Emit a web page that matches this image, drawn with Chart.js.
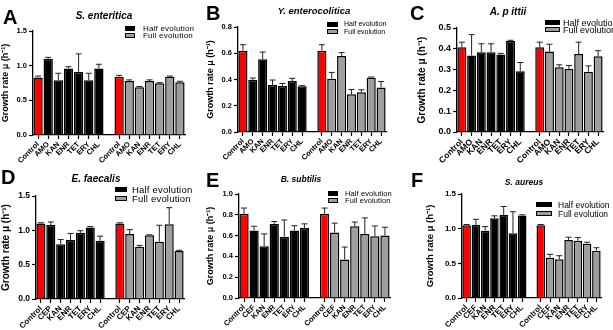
<!DOCTYPE html>
<html><head><meta charset="utf-8">
<script src="https://cdn.jsdelivr.net/npm/chart.js@4/dist/chart.umd.min.js"></script>
<style>
body{margin:0;background:#fff;width:613px;height:330px;position:relative;overflow:hidden;font-family:'Liberation Sans',Arial,sans-serif;color:#000;}
canvas{position:absolute;}
.lt{position:absolute;font-weight:bold;font-size:20px;line-height:20px;}
.ti{position:absolute;font-weight:bold;font-style:italic;text-align:center;white-space:nowrap;width:200px;}
.row{position:absolute;white-space:nowrap;display:flex;align-items:center;}
.bx{display:inline-block;box-sizing:border-box;}
</style></head><body>
<script>
// ---------- data ----------
const SERIES = ['Half evolution', 'Full evolution'];
const Y_TITLE = 'Growth rate μ (h⁻¹)';

const catsA = ['Control','AMO','KAN','ENR','TET','ERY','CHL'];
const halfA = [0.83, 1.10, 0.79, 0.96, 0.91, 0.79, 0.96];
const halfErrA = [0.02, 0.02, 0.10, 0.025, 0.26, 0.10, 0.06];
const fullA = [0.84, 0.78, 0.69, 0.78, 0.745, 0.84, 0.76];
const fullErrA = [0.02, 0.015, 0.01, 0.015, 0.01, 0.01, 0.015];
const yTicksA = [0, 0.5, 1.0, 1.5];

const catsB = ['Control','AMO','KAN','ENR','TET','ERY','CHL'];
const halfB = [0.62, 0.396, 0.554, 0.358, 0.35, 0.389, 0.348];
const halfErrB = [0.045, 0.015, 0.055, 0.038, 0.02, 0.02, 0.005];
const fullB = [0.62, 0.406, 0.58, 0.287, 0.302, 0.414, 0.34];
const fullErrB = [0.045, 0.048, 0.025, 0.037, 0.02, 0.005, 0.045];
const yTicksB = [0, 0.2, 0.4, 0.6, 0.8];

const catsC = ['Control','AMO','KAN','ENR','TET','ERY','CHL'];
const halfC = [0.407, 0.368, 0.384, 0.384, 0.372, 0.438, 0.292];
const halfErrC = [0.025, 0.1, 0.04, 0.04, 0.006, 0.003, 0.042];
const fullC = [0.407, 0.387, 0.311, 0.303, 0.375, 0.29, 0.364];
const fullErrC = [0.025, 0.035, 0.012, 0.017, 0.057, 0.028, 0.027];
const yTicksC = [0, 0.1, 0.2, 0.3, 0.4, 0.5];

const catsD = ['Control','CEP','KAN','ENR','TET','ERY','CHL'];
const halfD = [1.10, 1.077, 0.796, 0.86, 0.965, 1.04, 0.85];
const halfErrD = [0.01, 0.045, 0.07, 0.095, 0.03, 0.015, 0.065];
const fullD = [1.10, 0.946, 0.76, 0.93, 0.834, 1.09, 0.70];
const fullErrD = [0.01, 0.065, 0.02, 0.005, 0.24, 0.24, 0.01];
const yTicksD = [0, 0.5, 1.0, 1.5];

const catsE = ['Control','CEF','KAN','ENR','TET','ERY','CHL'];
const halfE = [0.81, 0.65, 0.497, 0.715, 0.59, 0.65, 0.673];
const halfErrE = [0.055, 0.04, 0.12, 0.02, 0.16, 0.045, 0.04];
const fullE = [0.81, 0.63, 0.37, 0.69, 0.615, 0.593, 0.60];
const fullErrE = [0.055, 0.09, 0.12, 0.04, 0.155, 0.10, 0.08];
const yTicksE = [0, 0.2, 0.4, 0.6, 0.8, 1.0];

const catsF = ['Control','CEF','KAN','ENR','TET','ERY','CHL'];
const halfF = [1.05, 1.055, 0.97, 1.15, 1.20, 0.934, 1.19];
const halfErrF = [0.01, 0.08, 0.06, 0.035, 0.12, 0.31, 0.01];
const fullF = [1.05, 0.58, 0.56, 0.837, 0.827, 0.784, 0.68];
const fullErrF = [0.01, 0.05, 0.05, 0.04, 0.045, 0.02, 0.045];
const yTicksF = [0, 0.5, 1.0, 1.5];

// ---------- styling / layout ----------
const FONT = "'Liberation Sans', Arial, sans-serif";
const RED = '#ff0000', BLACK = '#000000', GRAY = '#9e9e9e';

const panels = [
  {letter:'A', title:'S. enteritica', cats:catsA, half:halfA, halfErr:halfErrA, full:fullA, fullErr:fullErrA, yTicks:yTicksA,
   box:[0,0,205,165], L:33, R:185, T:31, B:135, padL:0, tickFs:7.5, xFs:7.5, yTitleFs:9,
   tt:{cx:104, cy:15.5, fs:10}, lt:{x:3, base:24},
   lg:{bx:125, tx:143, y1:29, y2:36, fs:8, ls:0.2, bw:10}},
  {letter:'B', title:'Y. enterocolitica', cats:catsB, half:halfB, halfErr:halfErrB, full:fullB, fullErr:fullErrB, yTicks:yTicksB,
   box:[205,0,203,165], L:33, R:181, T:27, B:132, padL:0, tickFs:7.5, xFs:7.5, yTitleFs:9,
   tt:{cx:314, cy:11, fs:9.5}, lt:{x:206, base:20},
   lg:{bx:327, tx:344, y1:24.5, y2:32, fs:7, ls:0, bw:11}},
  {letter:'C', title:'A. p ittii', cats:catsC, half:halfC, halfErr:halfErrC, full:fullC, fullErr:fullErrC, yTicks:yTicksC,
   box:[408,0,205,165], L:49, R:195, T:28, B:132, padL:8, tickFs:9, xFs:8.5, yTitleFs:10,
   tt:{cx:508, cy:11.5, fs:10}, lt:{x:410, base:20},
   lg:{bx:545, tx:563, y1:23, y2:30, fs:9, ls:0, bw:15}},
  {letter:'D', title:'E. faecalis', cats:catsD, half:halfD, halfErr:halfErrD, full:fullD, fullErr:fullErrD, yTicks:yTicksD,
   box:[0,165,205,165], L:36, R:184, T:31, B:134, padL:0, tickFs:8.5, xFs:8, yTitleFs:10,
   tt:{cx:96, cy:179, fs:10}, lt:{x:1, base:184},
   lg:{bx:115, tx:132, y1:189.5, y2:198.5, fs:9.5, ls:0.2, bw:12}},
  {letter:'E', title:'B. subtilis', cats:catsE, half:halfE, halfErr:halfErrE, full:fullE, fullErr:fullErrE, yTicks:yTicksE,
   box:[205,165,203,165], L:34, R:185, T:29, B:133, padL:0, tickFs:7.5, xFs:7.5, yTitleFs:9,
   tt:{cx:301, cy:179, fs:8.5}, lt:{x:206, base:187},
   lg:{bx:328, tx:345, y1:193, y2:200, fs:7.5, ls:0.1, bw:10}},
  {letter:'F', title:'S. aureus', cats:catsF, half:halfF, halfErr:halfErrF, full:fullF, fullErr:fullErrF, yTicks:yTicksF,
   box:[408,165,205,165], L:54, R:193, T:29, B:133, padL:17, tickFs:8, xFs:8, yTitleFs:9.5,
   tt:{cx:524, cy:182, fs:8.5}, lt:{x:411, base:187},
   lg:{bx:536, tx:558, y1:205, y2:214, fs:8.5, ls:0, bw:16}}
];

// ---------- error bar plugin ----------
const errorBars = {
  id: 'errorBars',
  afterDatasetsDraw(chart) {
    const ctx = chart.ctx, ys = chart.scales.y;
    chart.data.datasets.forEach((ds, di) => {
      const meta = chart.getDatasetMeta(di);
      meta.data.forEach((el, i) => {
        const v = ds.data[i], e = ds.errors ? ds.errors[i] : null;
        if (v == null || e == null) return;
        const yt = ys.getPixelForValue(v + e);
        ctx.save();
        ctx.strokeStyle = '#222';
        ctx.lineWidth = 1;
        ctx.beginPath();
        ctx.moveTo(el.x, el.y);
        ctx.lineTo(el.x, yt);
        ctx.moveTo(el.x - 3, yt);
        ctx.lineTo(el.x + 3, yt);
        ctx.stroke();
        ctx.restore();
      });
    });
  }
};

function addDiv(cls, text, style) {
  const d = document.createElement('div');
  d.className = cls;
  if (text != null) d.textContent = text;
  Object.assign(d.style, style);
  document.body.appendChild(d);
  return d;
}

panels.forEach(p => {
  const [bx, by, bw, bh] = p.box;
  const cv = document.createElement('canvas');
  cv.width = bw; cv.height = bh;
  cv.style.left = bx + 'px'; cv.style.top = by + 'px';
  cv.style.width = bw + 'px'; cv.style.height = bh + 'px';
  document.body.appendChild(cv);

  const n = p.cats.length;
  const labels = [...p.cats, '', ...p.cats];
  const gapIdx = n;
  const nulls = k => Array(k).fill(null);
  const halfData = [...p.half, ...nulls(n + 1)];
  const halfErr = [...p.halfErr, ...nulls(n + 1)];
  const fullData = [...nulls(n + 1), ...p.full];
  const fullErr = [...nulls(n + 1), ...p.fullErr];
  const halfColors = labels.map((l, i) => i === 0 ? RED : BLACK);
  const fullColors = labels.map((l, i) => i === n + 1 ? RED : GRAY);
  const yMax = p.yTicks[p.yTicks.length - 1];

  new Chart(cv, {
    type: 'bar',
    data: {
      labels,
      datasets: [
        {label: SERIES[0], data: halfData, errors: halfErr, backgroundColor: halfColors,
         borderColor: '#000', borderWidth: 1.5, grouped: false, barPercentage: 0.92, categoryPercentage: 1},
        {label: SERIES[1], data: fullData, errors: fullErr, backgroundColor: fullColors,
         borderColor: '#000', borderWidth: 1.5, grouped: false, barPercentage: 0.92, categoryPercentage: 1}
      ]
    },
    options: {
      responsive: false, animation: false, devicePixelRatio: 1,
      layout: {padding: {left: p.padL, top: p.T, right: bw - p.R, bottom: 0}},
      plugins: {legend: {display: false}, tooltip: {enabled: false}, title: {display: false}},
      scales: {
        x: {
          type: 'category', offset: true,
          grid: {display: true, offset: false, drawOnChartArea: false, drawTicks: true, tickLength: 4, tickWidth: 1.2,
                 color: 'rgba(0,0,0,0)', tickColor: c => (c.index === gapIdx ? 'rgba(0,0,0,0)' : '#000')},
          border: {display: true, color: '#000', width: 1.3},
          ticks: {autoSkip: false, minRotation: 45, maxRotation: 45, padding: 1, color: '#000',
                  font: {family: FONT, size: p.xFs, weight: 'bold'}},
          afterFit: s => { s.height = bh - p.B; }
        },
        y: {
          min: 0, max: yMax,
          afterBuildTicks: s => { s.ticks = p.yTicks.map(v => ({value: v})); },
          grid: {display: true, drawOnChartArea: false, drawTicks: true, tickLength: 4, tickWidth: 1.2, tickColor: '#000', color: 'rgba(0,0,0,0)'},
          border: {display: true, color: '#000', width: 1.3},
          ticks: {padding: 2, color: '#000', callback: v => Number(v).toFixed(1),
                  font: {family: FONT, size: p.tickFs, weight: 'bold'}},
          title: {display: true, text: Y_TITLE, color: '#000', padding: {top: 0, bottom: 0},
                  font: {family: FONT, size: p.yTitleFs, weight: 'bold'}},
          afterFit: s => { s.width = p.L - p.padL; }
        }
      }
    },
    plugins: [errorBars]
  });

  // panel letter
  addDiv('lt', p.letter, {left: p.lt.x + 'px', top: (p.lt.base - 17) + 'px'});
  // panel title
  addDiv('ti', p.title, {left: (p.tt.cx - 100) + 'px', top: (p.tt.cy - p.tt.fs * 0.6) + 'px',
    fontSize: p.tt.fs + 'px', lineHeight: (p.tt.fs * 1.2) + 'px'});
  // legend
  [[p.lg.y1, BLACK, SERIES[0]], [p.lg.y2, GRAY, SERIES[1]]].forEach(([cy, col, txt]) => {
    const h = p.lg.fs * 1.2;
    const r = addDiv('row', null, {left: p.lg.bx + 'px', top: (cy - h / 2) + 'px', height: h + 'px',
      fontSize: p.lg.fs + 'px', lineHeight: h + 'px', letterSpacing: p.lg.ls + 'px'});
    const b = document.createElement('span');
    b.className = 'bx';
    Object.assign(b.style, {width: p.lg.bw + 'px', height: '5px', background: col, border: '1px solid #000',
      marginRight: (p.lg.tx - p.lg.bx - p.lg.bw) + 'px'});
    r.appendChild(b);
    const t = document.createElement('span');
    t.textContent = txt;
    r.appendChild(t);
  });
});
</script>
</body></html>
